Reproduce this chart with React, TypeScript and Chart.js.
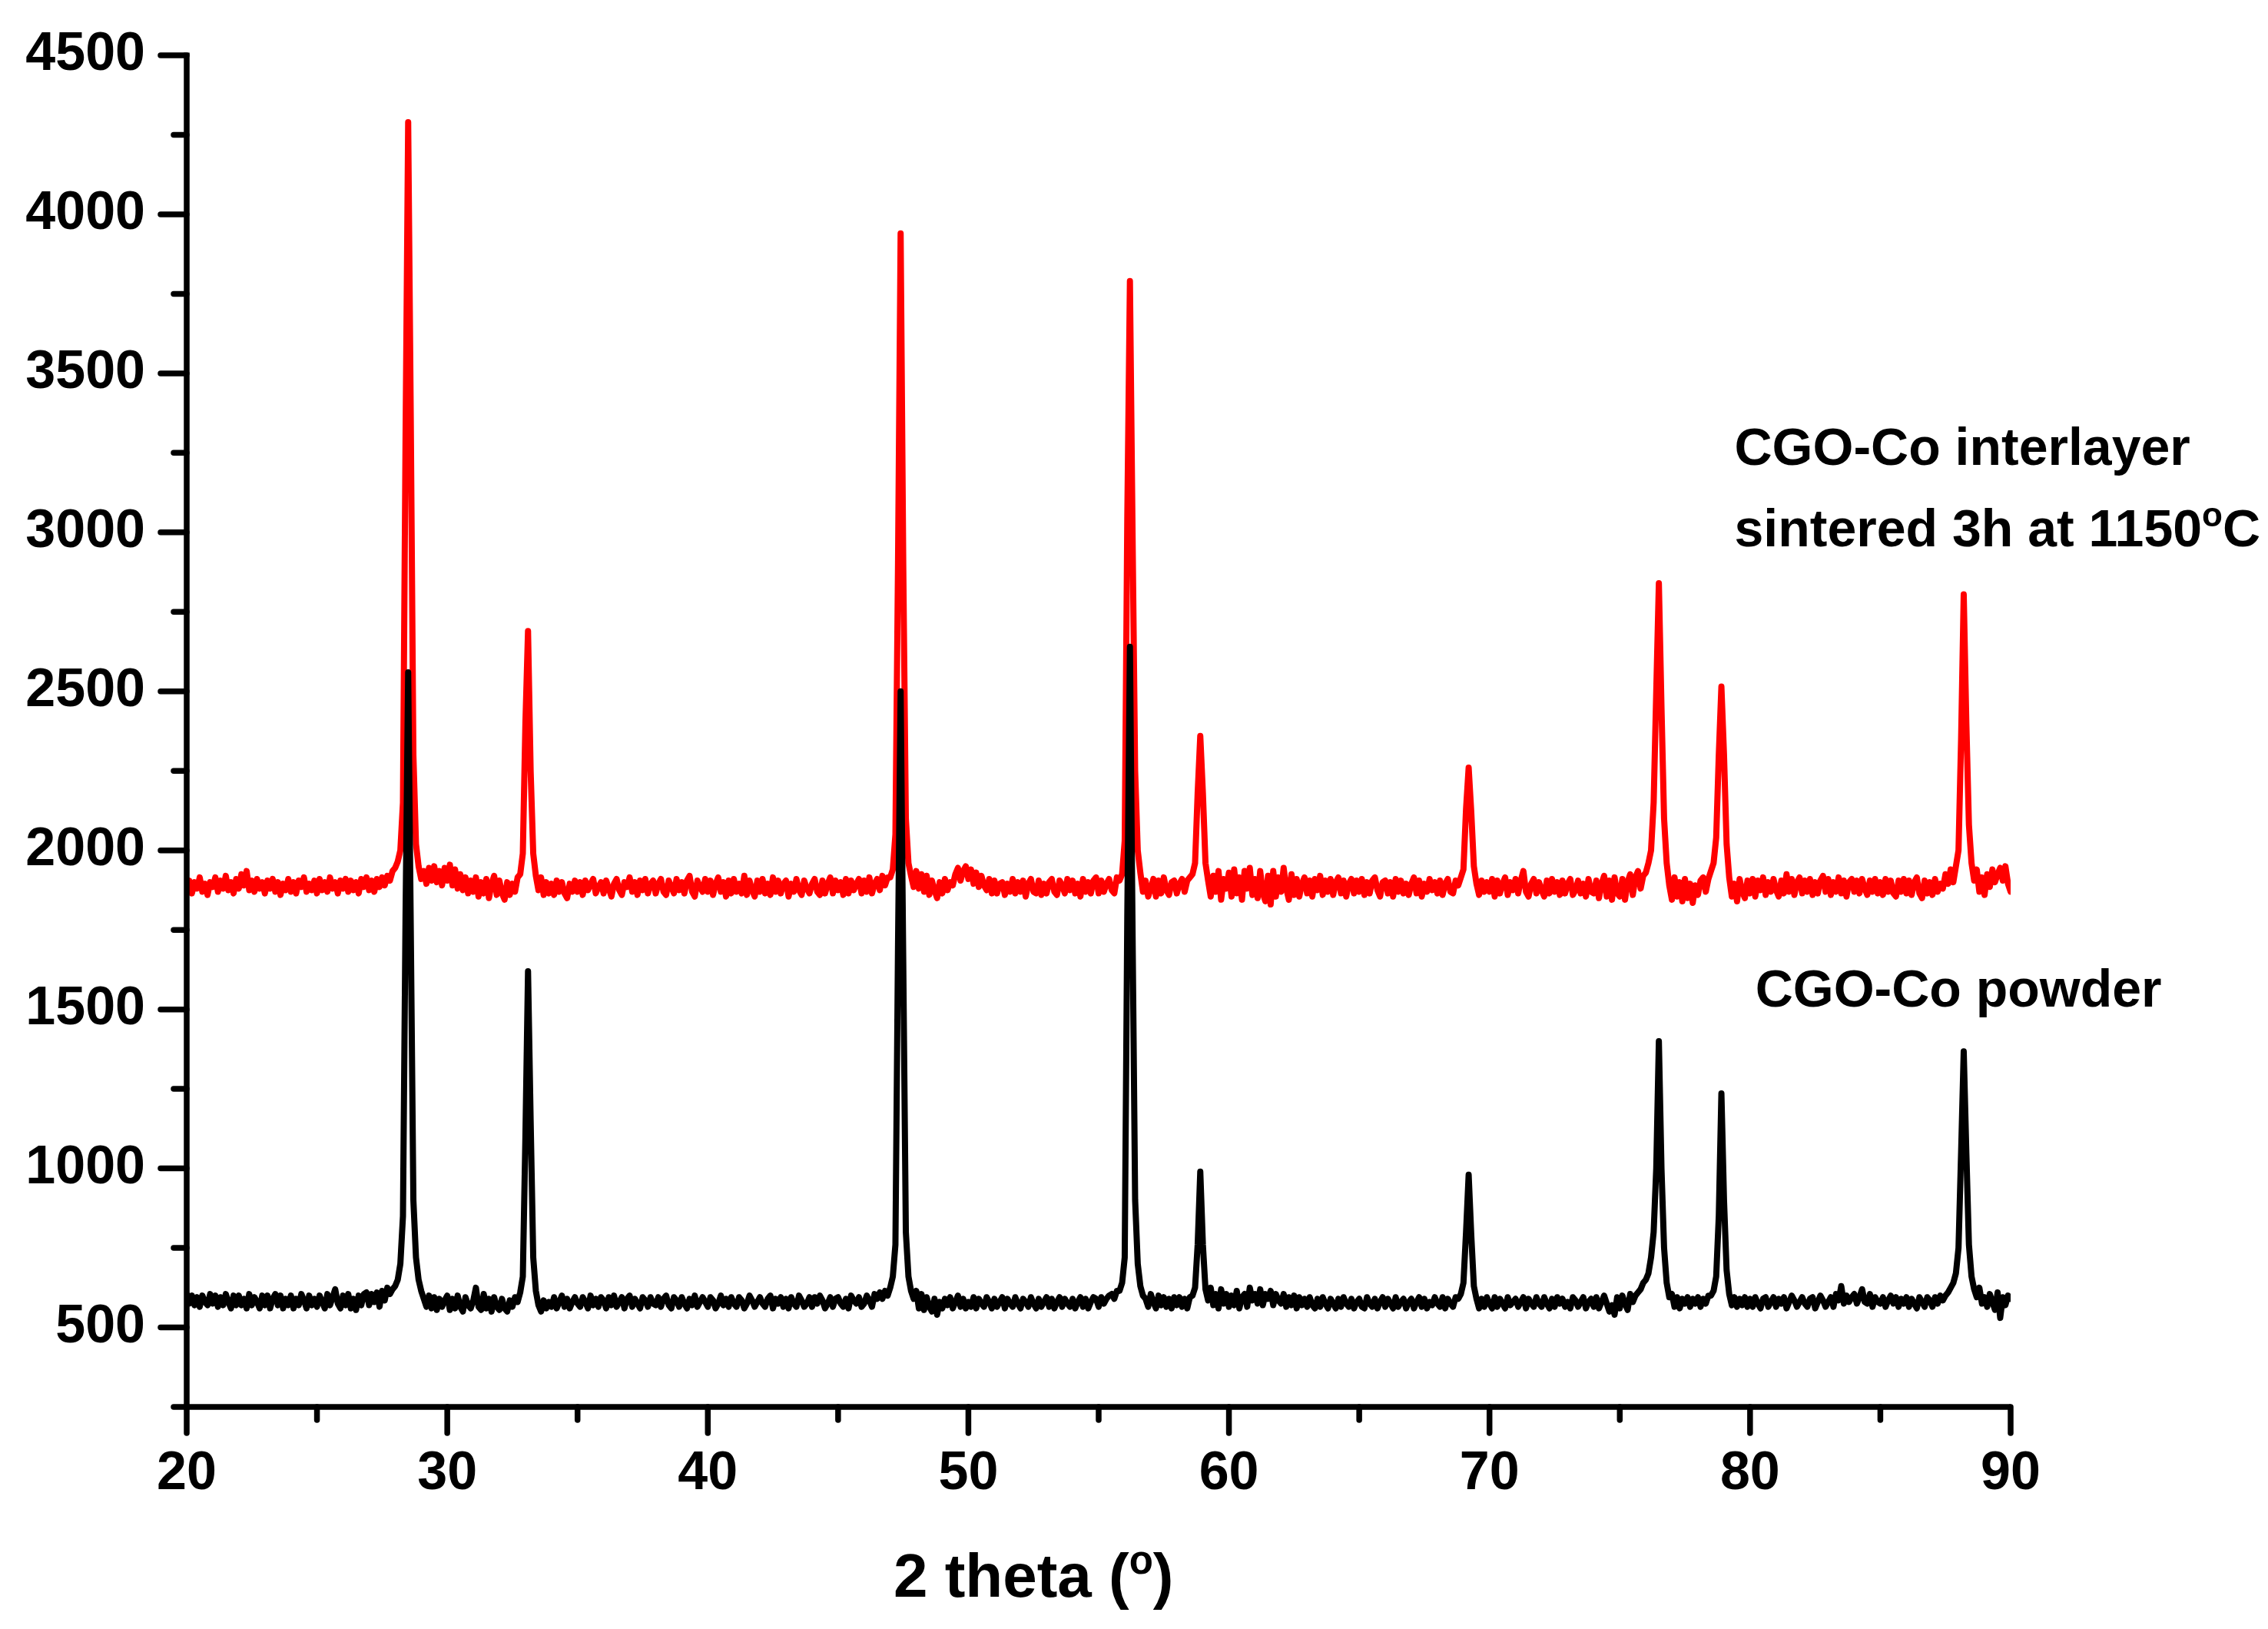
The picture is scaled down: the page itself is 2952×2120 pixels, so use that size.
import { useEffect, useRef } from "react";
import { Chart, registerables } from "chart.js";

// Register Chart.js components
Chart.register(...registerables);

const FONT = '"Liberation Sans", Arial, Helvetica, sans-serif';

// Scan grid: 20.0 to 90.0 deg, 0.1 deg step (701 points per pattern)
const SCAN_START = 20;
const SCAN_STEP = 0.1;

// CGO-Co interlayer sintered 3h at 1150 C (one row per degree, x.0 .. x.9)
const interlayerCounts = [
  1870, 1905, 1865, 1900, 1880, 1915, 1870, 1895, 1860, 1900, // 20
  1885, 1915, 1870, 1905, 1880, 1920, 1875, 1900, 1865, 1910, // 21
  1880, 1925, 1890, 1935, 1875, 1905, 1870, 1910, 1880, 1900, // 22
  1865, 1905, 1880, 1910, 1870, 1900, 1860, 1895, 1875, 1910, // 23
  1870, 1900, 1865, 1905, 1885, 1915, 1870, 1895, 1875, 1905, // 24
  1865, 1910, 1875, 1900, 1870, 1915, 1880, 1900, 1865, 1905, // 25
  1880, 1910, 1870, 1905, 1875, 1900, 1865, 1910, 1885, 1915, // 26
  1875, 1905, 1870, 1910, 1885, 1915, 1890, 1920, 1905, 1935, // 27
  1945, 1965, 2000, 2150, 3300, 4290, 3350, 2300, 2020, 1950, // 28
  1910, 1935, 1895, 1945, 1905, 1950, 1900, 1935, 1890, 1945, // 29
  1905, 1955, 1890, 1940, 1880, 1925, 1875, 1915, 1865, 1905, // 30
  1870, 1915, 1855, 1900, 1865, 1910, 1850, 1895, 1920, 1860, // 31
  1905, 1865, 1845, 1900, 1860, 1895, 1870, 1915, 1925, 1990, // 32
  2400, 2690, 2250, 1990, 1920, 1875, 1915, 1860, 1900, 1865, // 33
  1895, 1860, 1905, 1870, 1900, 1865, 1850, 1895, 1870, 1905, // 34
  1870, 1900, 1860, 1905, 1875, 1895, 1910, 1865, 1885, 1900, // 35
  1865, 1905, 1880, 1855, 1895, 1910, 1875, 1860, 1900, 1885, // 36
  1915, 1870, 1900, 1860, 1905, 1875, 1910, 1865, 1895, 1905, // 37
  1865, 1895, 1910, 1870, 1860, 1905, 1885, 1865, 1910, 1875, // 38
  1900, 1865, 1905, 1920, 1870, 1855, 1905, 1885, 1870, 1910, // 39
  1870, 1905, 1860, 1895, 1915, 1870, 1900, 1855, 1905, 1865, // 40
  1910, 1870, 1895, 1865, 1920, 1860, 1905, 1875, 1855, 1905, // 41
  1870, 1910, 1865, 1895, 1860, 1915, 1870, 1905, 1865, 1895, // 42
  1905, 1855, 1895, 1870, 1910, 1875, 1860, 1905, 1880, 1865, // 43
  1895, 1910, 1870, 1860, 1905, 1865, 1895, 1915, 1865, 1905, // 44
  1875, 1900, 1860, 1910, 1865, 1905, 1875, 1895, 1910, 1865, // 45
  1905, 1870, 1915, 1865, 1895, 1910, 1875, 1920, 1890, 1915, // 46
  1915, 1940, 2050, 2900, 3940, 2900, 2100, 1960, 1920, 1885, // 47
  1935, 1880, 1925, 1870, 1920, 1860, 1905, 1875, 1850, 1900, // 48
  1865, 1910, 1875, 1900, 1890, 1925, 1945, 1905, 1935, 1950, // 49
  1910, 1940, 1895, 1930, 1885, 1920, 1890, 1875, 1910, 1865, // 50
  1905, 1865, 1895, 1900, 1860, 1895, 1870, 1910, 1865, 1900, // 51
  1870, 1905, 1855, 1895, 1910, 1870, 1865, 1905, 1860, 1895, // 52
  1865, 1900, 1910, 1870, 1860, 1905, 1890, 1865, 1910, 1875, // 53
  1905, 1865, 1895, 1855, 1910, 1870, 1900, 1865, 1905, 1915, // 54
  1865, 1905, 1870, 1895, 1910, 1875, 1865, 1915, 1905, 1925, // 55
  2030, 3050, 3790, 3000, 2250, 2000, 1930, 1870, 1905, 1855, // 56
  1880, 1910, 1855, 1905, 1865, 1915, 1875, 1860, 1900, 1905, // 57
  1865, 1895, 1910, 1870, 1905, 1915, 1925, 1960, 2180, 2360, // 58
  2180, 1960, 1905, 1855, 1920, 1870, 1935, 1845, 1910, 1880, // 59
  1930, 1855, 1940, 1865, 1915, 1845, 1935, 1880, 1945, 1860, // 60
  1910, 1850, 1935, 1865, 1840, 1920, 1830, 1935, 1855, 1915, // 61
  1870, 1945, 1880, 1845, 1925, 1860, 1910, 1855, 1895, 1915, // 62
  1865, 1905, 1855, 1910, 1875, 1920, 1860, 1905, 1870, 1910, // 63
  1860, 1900, 1915, 1865, 1905, 1855, 1895, 1910, 1865, 1905, // 64
  1870, 1910, 1860, 1900, 1865, 1905, 1915, 1875, 1855, 1900, // 65
  1905, 1865, 1900, 1855, 1910, 1870, 1905, 1865, 1895, 1860, // 66
  1895, 1915, 1865, 1905, 1855, 1895, 1870, 1910, 1875, 1900, // 67
  1865, 1905, 1860, 1895, 1910, 1870, 1865, 1905, 1890, 1915, // 68
  1940, 2130, 2260, 2120, 1950, 1895, 1860, 1905, 1870, 1900, // 69
  1870, 1910, 1855, 1905, 1865, 1895, 1915, 1860, 1900, 1875, // 70
  1910, 1865, 1905, 1935, 1870, 1855, 1895, 1910, 1865, 1900, // 71
  1875, 1855, 1905, 1865, 1910, 1870, 1900, 1860, 1905, 1865, // 72
  1895, 1910, 1860, 1875, 1905, 1865, 1895, 1855, 1910, 1870, // 73
  1865, 1905, 1850, 1895, 1920, 1855, 1905, 1845, 1915, 1865, // 74
  1855, 1910, 1845, 1900, 1925, 1860, 1915, 1935, 1880, 1920, // 75
  1930, 1960, 2000, 2150, 2500, 2840, 2450, 2100, 1960, 1890, // 76
  1845, 1915, 1855, 1900, 1840, 1910, 1850, 1895, 1835, 1890, // 77
  1860, 1905, 1915, 1870, 1910, 1935, 1960, 2040, 2300, 2515, // 78
  2300, 2020, 1915, 1855, 1895, 1840, 1910, 1870, 1850, 1905, // 79
  1865, 1910, 1855, 1905, 1875, 1915, 1860, 1900, 1870, 1910, // 80
  1875, 1855, 1905, 1865, 1925, 1870, 1910, 1860, 1900, 1915, // 81
  1865, 1905, 1870, 1910, 1860, 1900, 1865, 1905, 1920, 1870, // 82
  1910, 1860, 1900, 1870, 1915, 1865, 1905, 1855, 1900, 1910, // 83
  1870, 1905, 1865, 1910, 1880, 1860, 1905, 1870, 1910, 1865, // 84
  1900, 1860, 1910, 1870, 1905, 1865, 1855, 1905, 1870, 1910, // 85
  1865, 1905, 1860, 1900, 1915, 1865, 1850, 1905, 1865, 1900, // 86
  1860, 1910, 1870, 1895, 1880, 1925, 1895, 1940, 1900, 1950, // 87
  2000, 2350, 2805, 2400, 2080, 1960, 1905, 1940, 1870, 1915, // 88
  1860, 1925, 1885, 1940, 1900, 1925, 1945, 1905, 1950, 1895, // 89
  1870, // 90
];

// CGO-Co powder
const powderCounts = [
  605, 575, 600, 570, 595, 565, 600, 580, 570, 605, // 20
  575, 600, 565, 595, 570, 605, 580, 560, 600, 570, // 21
  600, 570, 590, 560, 605, 570, 595, 580, 560, 600, // 22
  570, 600, 560, 590, 605, 570, 600, 560, 590, 570, // 23
  600, 560, 590, 570, 605, 585, 560, 600, 570, 590, // 24
  565, 600, 580, 560, 605, 570, 595, 620, 575, 560, // 25
  600, 570, 605, 560, 590, 555, 600, 570, 605, 610, // 26
  570, 605, 580, 610, 565, 615, 585, 625, 605, 620, // 27
  630, 650, 700, 850, 1800, 2560, 1750, 900, 720, 650, // 28
  615, 590, 565, 600, 560, 595, 555, 590, 565, 585, // 29
  600, 555, 590, 560, 600, 565, 550, 595, 570, 560, // 30
  585, 625, 565, 555, 605, 560, 590, 550, 595, 565, // 31
  555, 590, 560, 550, 585, 565, 595, 580, 610, 660, // 32
  1100, 1620, 1150, 720, 615, 570, 550, 585, 560, 580, // 33
  565, 595, 560, 580, 600, 565, 590, 560, 580, 595, // 34
  575, 565, 595, 580, 560, 600, 570, 590, 565, 595, // 35
  585, 560, 595, 570, 600, 565, 580, 595, 560, 590, // 36
  600, 565, 590, 575, 560, 595, 585, 565, 595, 575, // 37
  570, 595, 565, 590, 600, 570, 560, 595, 585, 565, // 38
  595, 575, 560, 590, 570, 600, 565, 580, 595, 580, // 39
  565, 595, 585, 560, 575, 600, 570, 590, 565, 595, // 40
  575, 565, 595, 585, 560, 575, 600, 585, 565, 580, // 41
  595, 575, 565, 590, 600, 560, 590, 575, 595, 565, // 42
  590, 560, 595, 575, 565, 600, 585, 565, 575, 595, // 43
  565, 595, 575, 600, 585, 560, 575, 595, 565, 590, // 44
  595, 575, 565, 590, 560, 600, 585, 575, 595, 565, // 45
  575, 600, 585, 565, 605, 590, 610, 590, 615, 600, // 46
  625, 660, 760, 1700, 2500, 1650, 800, 660, 615, 590, // 47
  615, 560, 605, 555, 595, 565, 550, 590, 540, 580, // 48
  560, 590, 570, 595, 560, 580, 600, 565, 590, 560, // 49
  580, 565, 595, 560, 590, 575, 565, 595, 580, 560, // 50
  590, 565, 580, 595, 560, 590, 575, 565, 595, 575, // 51
  560, 590, 580, 565, 595, 575, 560, 590, 565, 580, // 52
  595, 565, 590, 560, 580, 595, 565, 590, 575, 565, // 53
  590, 560, 580, 595, 565, 590, 560, 580, 595, 590, // 54
  565, 595, 575, 590, 600, 605, 590, 615, 615, 640, // 55
  720, 1800, 2640, 1750, 900, 700, 630, 600, 590, 565, // 56
  605, 580, 560, 600, 570, 595, 565, 590, 560, 595, // 57
  570, 595, 565, 590, 560, 595, 600, 625, 760, 990, // 58
  760, 620, 585, 625, 570, 605, 560, 620, 575, 605, // 59
  565, 600, 570, 615, 560, 595, 605, 565, 625, 585, // 60
  605, 575, 620, 570, 605, 590, 615, 570, 605, 585, // 61
  575, 605, 565, 595, 570, 600, 560, 595, 570, 590, // 62
  565, 595, 570, 560, 590, 565, 595, 575, 560, 590, // 63
  575, 560, 590, 565, 595, 575, 565, 590, 560, 580, // 64
  590, 565, 560, 595, 575, 565, 590, 560, 580, 595, // 65
  565, 590, 575, 560, 595, 565, 580, 590, 560, 580, // 66
  590, 560, 580, 595, 565, 590, 560, 580, 570, 595, // 67
  575, 565, 595, 560, 590, 575, 565, 595, 590, 605, // 68
  640, 800, 980, 790, 630, 590, 560, 590, 565, 595, // 69
  575, 560, 595, 565, 590, 575, 560, 595, 570, 580, // 70
  590, 565, 580, 595, 560, 590, 575, 565, 595, 575, // 71
  565, 595, 575, 560, 590, 565, 595, 575, 590, 565, // 72
  580, 560, 595, 585, 565, 580, 595, 560, 580, 590, // 73
  565, 595, 560, 580, 600, 575, 550, 570, 540, 595, // 74
  560, 600, 575, 555, 605, 580, 600, 610, 620, 640, // 75
  650, 670, 720, 800, 1000, 1400, 1000, 750, 640, 595, // 76
  605, 565, 595, 560, 590, 575, 595, 565, 590, 575, // 77
  595, 565, 590, 575, 600, 600, 615, 660, 850, 1236, // 78
  900, 680, 605, 570, 595, 565, 590, 570, 595, 565, // 79
  590, 565, 595, 575, 560, 590, 595, 565, 580, 595, // 80
  565, 590, 575, 595, 560, 580, 600, 585, 565, 580, // 81
  595, 575, 565, 590, 595, 560, 580, 600, 585, 565, // 82
  580, 595, 565, 605, 585, 630, 575, 600, 580, 595, // 83
  605, 575, 595, 620, 580, 575, 605, 565, 595, 580, // 84
  575, 595, 565, 585, 600, 575, 595, 565, 590, 575, // 85
  595, 565, 590, 575, 560, 595, 580, 565, 595, 585, // 86
  565, 595, 575, 600, 585, 600, 610, 625, 640, 670, // 87
  750, 1050, 1368, 1050, 760, 660, 620, 595, 625, 575, // 88
  595, 565, 605, 580, 555, 610, 530, 595, 570, 600, // 89
  590, // 90
];

const xTickValues = [20, 30, 40, 50, 60, 70, 80, 90];
const xMinorTickValues = [25, 35, 45, 55, 65, 75, 85];
const yTickValues = [500, 1000, 1500, 2000, 2500, 3000, 3500, 4000, 4500];
const yMinorTickValues = [250, 750, 1250, 1750, 2250, 2750, 3250, 3750, 4250];

type Part = { text: string; sup?: boolean };

// Text labels, anchored in data space (left end of baseline)
const labelInterlayer: Part[][] = [
  [{ text: "CGO-Co interlayer" }],
  [{ text: "sintered 3h at 1150" }, { text: "o", sup: true }, { text: "C" }],
];
const labelPowder: Part[] = [{ text: "CGO-Co powder" }];
const axisTitle: Part[] = [{ text: "2 theta (" }, { text: "o", sup: true }, { text: ")" }];

const drawParts = (ctx: CanvasRenderingContext2D, parts: Part[], x: number, y: number, size: number) => {
  let cx = x;
  for (const p of parts) {
    const s = p.sup ? Math.round(size * 0.64) : size;
    ctx.font = `bold ${s}px ${FONT}`;
    ctx.fillText(p.text, cx, p.sup ? y - size * 0.38 : y);
    cx += ctx.measureText(p.text).width;
  }
  return cx - x;
};

const partsWidth = (ctx: CanvasRenderingContext2D, parts: Part[], size: number) => {
  let w = 0;
  for (const p of parts) {
    const s = p.sup ? Math.round(size * 0.64) : size;
    ctx.font = `bold ${s}px ${FONT}`;
    w += ctx.measureText(p.text).width;
  }
  return w;
};

// Axes, ticks and annotations in the Origin style
const decorPlugin = {
  id: "xrdDecor",
  afterDraw(chart: any) {
    const { ctx, chartArea } = chart;
    const xs = chart.scales.x;
    const ys = chart.scales.y;
    const line = (x1: number, y1: number, x2: number, y2: number, cap: CanvasLineCap) => {
      ctx.lineCap = cap;
      ctx.beginPath();
      ctx.moveTo(x1, y1);
      ctx.lineTo(x2, y2);
      ctx.stroke();
    };
    ctx.save();
    ctx.strokeStyle = "#000";
    ctx.lineWidth = 7.5;
    const left = chartArea.left;
    const bottom = chartArea.bottom;
    line(left, chartArea.top - 3.5, left, bottom, "butt");
    line(left - 3.5, bottom, chartArea.right, bottom, "butt");
    xTickValues.forEach((v) => {
      const px = xs.getPixelForValue(v);
      line(px, bottom, px, bottom + 34, "round");
    });
    xMinorTickValues.forEach((v) => {
      const px = xs.getPixelForValue(v);
      line(px, bottom, px, bottom + 17, "round");
    });
    yTickValues.forEach((v) => {
      const py = ys.getPixelForValue(v);
      line(left, py, left - 34, py, "round");
    });
    yMinorTickValues.forEach((v) => {
      const py = ys.getPixelForValue(v);
      line(left, py, left - 17, py, "round");
    });

    ctx.fillStyle = "#000";
    ctx.textAlign = "left";
    ctx.textBaseline = "alphabetic";
    drawParts(ctx, labelInterlayer[0], xs.getPixelForValue(79.4), ys.getPixelForValue(3212), 68);
    drawParts(ctx, labelInterlayer[1], xs.getPixelForValue(79.4), ys.getPixelForValue(2956), 68);
    drawParts(ctx, labelPowder, xs.getPixelForValue(80.2), ys.getPixelForValue(1510), 68);

    const tw = partsWidth(ctx, axisTitle, 80);
    drawParts(ctx, axisTitle, xs.getPixelForValue(52.5) - tw / 2, bottom + 247, 80);
    ctx.restore();
  },
};

const XrdChart = () => {
  const chartRef = useRef<HTMLCanvasElement>(null);
  const chartInstance = useRef<Chart | null>(null);

  useEffect(() => {
    if (!chartRef.current) return;

    const toPoints = (counts: number[]) =>
      counts.map((c, i) => ({ x: +(SCAN_START + i * SCAN_STEP).toFixed(1), y: c }));

    if (chartInstance.current) {
      chartInstance.current.destroy();
    }

    const tickFont = { family: FONT, size: 70, weight: "bold" as const };
    // invisible tick marks only push the labels away from the axis
    const hiddenGrid = (len: number) => ({
      display: true,
      drawOnChartArea: false,
      drawTicks: true,
      tickLength: len,
      tickColor: "rgba(0,0,0,0)",
    });

    chartInstance.current = new Chart(chartRef.current, {
      type: "line",
      data: {
        datasets: [
          {
            label: "CGO-Co powder",
            data: toPoints(powderCounts),
            borderColor: "#000000",
            borderWidth: 8,
            pointRadius: 0,
            tension: 0,
            fill: false,
            borderJoinStyle: "round",
            borderCapStyle: "round",
          },
          {
            label: "CGO-Co interlayer sintered 3h at 1150°C",
            data: toPoints(interlayerCounts),
            borderColor: "#ff0000",
            borderWidth: 8,
            pointRadius: 0,
            tension: 0,
            fill: false,
            borderJoinStyle: "round",
            borderCapStyle: "round",
          },
        ],
      },
      options: {
        animation: false,
        responsive: true,
        maintainAspectRatio: false,
        devicePixelRatio: 1,
        layout: { padding: { top: 72, right: 335, left: 0, bottom: 0 } },
        plugins: {
          legend: { display: false },
          tooltip: { enabled: false },
        },
        scales: {
          x: {
            type: "linear",
            min: 20,
            max: 90,
            afterFit: (s: any) => {
              s.height = 289;
            },
            afterBuildTicks: (s: any) => {
              s.ticks = xTickValues.map((v) => ({ value: v }));
            },
            grid: hiddenGrid(42),
            border: { display: false },
            ticks: {
              padding: 4,
              color: "#000",
              font: tickFont,
              maxRotation: 0,
              autoSkip: false,
              callback: (v: any) => String(v),
            },
          },
          y: {
            type: "linear",
            min: 250,
            max: 4500,
            afterFit: (s: any) => {
              s.width = 243;
            },
            afterBuildTicks: (s: any) => {
              s.ticks = yTickValues.map((v) => ({ value: v }));
            },
            grid: hiddenGrid(50),
            border: { display: false },
            ticks: {
              padding: 4,
              color: "#000",
              font: tickFont,
              autoSkip: false,
              callback: (v: any) => String(v),
            },
          },
        },
      },
      plugins: [decorPlugin],
    });

    // Cleanup chart on unmount
    return () => {
      if (chartInstance.current) {
        chartInstance.current.destroy();
        chartInstance.current = null;
      }
    };
  }, []);

  return (
    <div style={{ position: "absolute", left: 0, top: 0, width: 2952, height: 2120, background: "#fff" }}>
      <canvas ref={chartRef} />
    </div>
  );
};

export default function App() {
  return <XrdChart />;
}
